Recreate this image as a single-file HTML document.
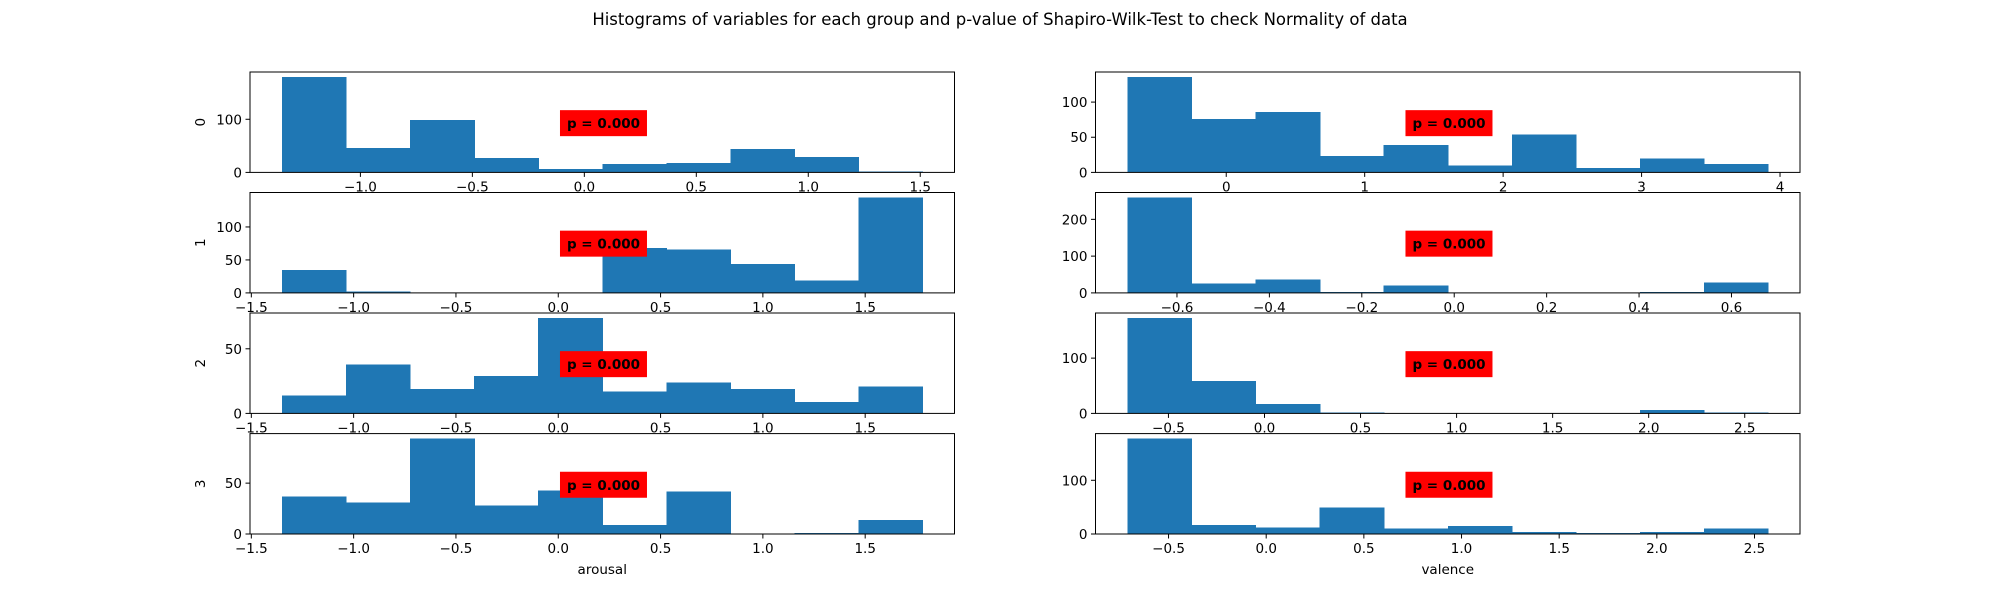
<!DOCTYPE html>
<html><head><meta charset="utf-8"><style>
body{margin:0;background:#fff}
svg{display:block;font-family:"DejaVu Sans","Liberation Sans",sans-serif}
</style></head><body>
<svg id="chart" width="2000" height="600" viewBox="0 0 2000 600">
<text x="1000" y="25" text-anchor="middle" font-size="16.5" fill="#000">Histograms of variables for each group and p-value of Shapiro-Wilk-Test to check Normality of data</text>
</svg>
<script>
// Data arrays (top level)
const groups = ["0","1","2","3"];
const arousalMin = [-1.35, -1.35, -1.35, -1.35];
const arousalMax = [1.51, 1.78, 1.78, 1.78];
const arousalCounts0 = [180, 46, 99, 27, 6, 16, 18, 44, 29, 2];
const arousalCounts1 = [35, 2, 0, 0, 0, 68, 66, 44, 19, 145];
const arousalCounts2 = [14, 38, 19, 29, 74, 17, 24, 19, 9, 21];
const arousalCounts3 = [37, 31, 94, 28, 43, 9, 42, 0, 1, 14];
const valenceMin = [-0.713, -0.707, -0.713, -0.710];
const valenceMax = [3.913, 0.679, 2.621, 2.569];
const valenceCounts0 = [136, 76, 86, 23, 39, 10, 54, 6, 20, 12];
const valenceCounts1 = [260, 25, 36, 3, 20, 0, 0, 0, 3, 28];
const valenceCounts2 = [173, 59, 17, 2, 0, 0, 0, 0, 6, 2];
const valenceCounts3 = [178, 17, 12, 49, 10, 15, 4, 2, 4, 10];
const arousalXTicks = [[-1.0,-0.5,0.0,0.5,1.0,1.5],[-1.5,-1.0,-0.5,0.0,0.5,1.0,1.5],[-1.5,-1.0,-0.5,0.0,0.5,1.0,1.5],[-1.5,-1.0,-0.5,0.0,0.5,1.0,1.5]];
const valenceXTicks = [[0,1,2,3,4],[-0.6,-0.4,-0.2,0.0,0.2,0.4,0.6],[-0.5,0.0,0.5,1.0,1.5,2.0,2.5],[-0.5,0.0,0.5,1.0,1.5,2.0,2.5]];
const arousalYTicks = [[0,100],[0,50,100],[0,50],[0,50]];
const valenceYTicks = [[0,50,100],[0,100,200],[0,100],[0,100]];
const pValues = ["0.000","0.000","0.000","0.000"];

const NS = "http://www.w3.org/2000/svg";
const svg = document.getElementById("chart");
function mk(tag, attrs, parent){
  const e = document.createElementNS(NS, tag);
  for (const k in attrs) e.setAttribute(k, attrs[k]);
  (parent||svg).appendChild(e);
  return e;
}
const colX = [[250, 954.5], [1095.5, 1800]];
const rowY = [[72, 172.4], [192.5, 292.9], [313, 413.4], [433.6, 534]];

function drawPanel(col, row, counts, dmin, dmax, xticks, yticks, digits, pval, varName){
  const [L, R] = colX[col]; const [T, B] = rowY[row];
  const span = dmax - dmin;
  const xlo = dmin - 0.05*span, xhi = dmax + 0.05*span;
  const ymax = Math.max(...counts) * 1.05;
  const sx = v => L + (v - xlo) / (xhi - xlo) * (R - L);
  const sy = v => B - v / ymax * (B - T);
  const g = mk("g", {});
  
  
  const bw = span / counts.length;
  counts.forEach((c, i) => {
    if (c <= 0) return;
    const x0 = sx(dmin + i*bw), x1 = sx(dmin + (i+1)*bw);
    const r = mk("rect", {x: x0, y: sy(c), width: x1 - x0 + 0.6, height: B - sy(c), fill: "#1f77b4", "shape-rendering": "crispEdges"}, g);
    
    
  });
  const frame = mk("rect", {x: L, y: T, width: R - L, height: B - T, fill: "none", stroke: "#000", "stroke-width": 1}, g);
  
  
  xticks.forEach(t => {
    const x = sx(t);
    mk("line", {x1: x, x2: x, y1: B, y2: B + 4.5, stroke: "#000", "stroke-width": 1}, g);
    const lab = mk("text", {x: x, y: B + 19, "text-anchor": "middle", "font-size": 13.5, fill: "#000"}, g);
    lab.textContent = (t < 0 ? "\u2212" : "") + Math.abs(t).toFixed(digits);
    
    
  });
  yticks.forEach(t => {
    const y = sy(t);
    mk("line", {x1: L - 4.5, x2: L, y1: y, y2: y, stroke: "#000", "stroke-width": 1}, g);
    const lab = mk("text", {x: L - 8, y: y + 5, "text-anchor": "end", "font-size": 13.5, fill: "#000"}, g);
    lab.textContent = t;
    
    
  });
  const bx = L + 0.44*(R - L), by = T + 0.38*(B - T);
  const box = mk("rect", {x: bx, y: by, width: 87, height: 26, fill: "#ff0000"}, g);
  
  
  const pt = mk("text", {x: bx + 43.5, y: by + 18, "text-anchor": "middle", "font-size": 13.5, "font-weight": "bold", fill: "#000"}, g);
  pt.textContent = "p = " + pval;
  
  
  if (col === 0) {
    const yl = mk("text", {x: 0, y: 0, "text-anchor": "middle", "font-size": 13.5, fill: "#000", transform: `translate(205,${(T+B)/2}) rotate(-90)`}, g);
    yl.textContent = groups[row];
    
    
  }
  if (row === 3) {
    const xl = mk("text", {x: (L+R)/2, y: 574, "text-anchor": "middle", "font-size": 13.5, fill: "#000"}, g);
    xl.textContent = varName;
    
    
  }
}
const aC = [arousalCounts0, arousalCounts1, arousalCounts2, arousalCounts3];
const vC = [valenceCounts0, valenceCounts1, valenceCounts2, valenceCounts3];
for (let r = 0; r < 4; r++) {
  drawPanel(0, r, aC[r], arousalMin[r], arousalMax[r], arousalXTicks[r], arousalYTicks[r], 1, pValues[r], "arousal");
  drawPanel(1, r, vC[r], valenceMin[r], valenceMax[r], valenceXTicks[r], valenceYTicks[r], r === 0 ? 0 : 1, pValues[r], "valence");
}
</script>
</body></html>
